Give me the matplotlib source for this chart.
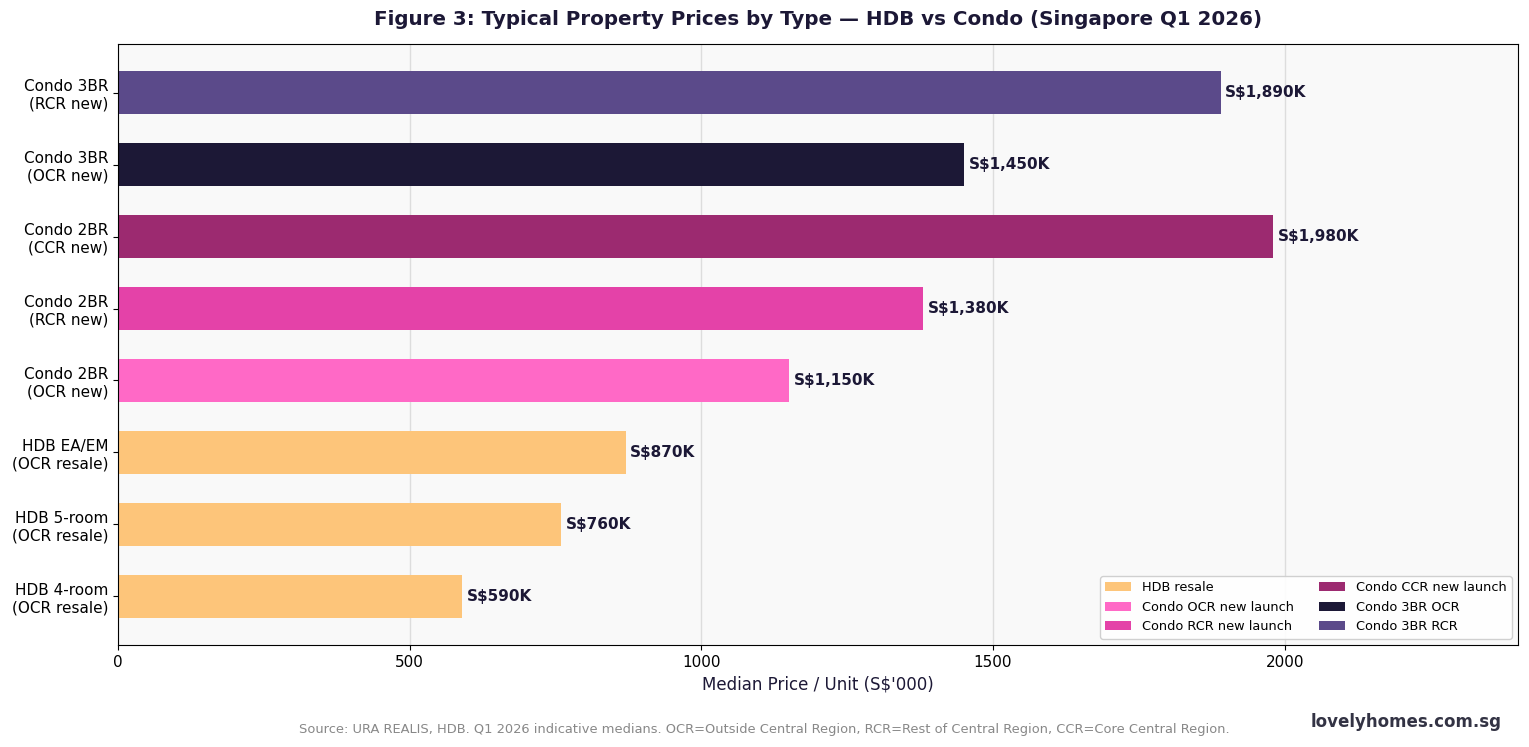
import matplotlib
matplotlib.use('Agg')
import matplotlib.pyplot as plt
from matplotlib.patches import Patch

# categories bottom -> top
labels = ['HDB 4-room\n(OCR resale)', 'HDB 5-room\n(OCR resale)', 'HDB EA/EM\n(OCR resale)',
          'Condo 2BR\n(OCR new)', 'Condo 2BR\n(RCR new)', 'Condo 2BR\n(CCR new)',
          'Condo 3BR\n(OCR new)', 'Condo 3BR\n(RCR new)']
prices = [590, 760, 870, 1150, 1380, 1980, 1450, 1890]
colors = ['#FDC57A', '#FDC57A', '#FDC57A', '#FF69C6', '#E442A8', '#9C2A70', '#1C1836', '#5B4A8A']

legend_names = ['HDB resale', 'Condo OCR new launch', 'Condo RCR new launch',
                'Condo CCR new launch', 'Condo 3BR OCR', 'Condo 3BR RCR']
legend_colors = ['#FDC57A', '#FF69C6', '#E442A8', '#9C2A70', '#1C1836', '#5B4A8A']

fig = plt.figure(figsize=(15.29, 7.47), dpi=100)
ax = fig.add_axes([118/1529, 1 - 645/747, 1400/1529, 601/747])
ax.set_facecolor('#F9F9F9')

ypos = range(len(labels))
bars = ax.barh(ypos, prices, height=0.6, color=colors, zorder=2)

# value labels
for b, v in zip(bars, prices):
    ax.text(v + 8, b.get_y() + b.get_height()/2, 'S$' + format(v, ',') + 'K',
            va='center', ha='left', fontsize=11, fontweight='bold', color='#1C1836', zorder=3)

ax.set_yticks(list(ypos))
ax.set_yticklabels(labels, fontsize=11)
ax.set_xlim(0, 2400)
ax.set_xticks([0, 500, 1000, 1500, 2000])
ax.tick_params(axis='x', labelsize=11)
ax.grid(axis='x', color='#DDDDDD', linewidth=1, zorder=0)
ax.set_axisbelow(True)
ax.set_xlabel("Median Price / Unit (S$'000)", fontsize=12, color='#1C1836')

ax.set_title('Figure 3: Typical Property Prices by Type \u2014 HDB vs Condo (Singapore Q1 2026)',
             fontsize=14.3, fontweight='bold', color='#1C1836', pad=14)

handles = [Patch(facecolor=c, label=n) for n, c in zip(legend_names, legend_colors)]
ax.legend(handles=handles, ncol=2, loc='lower right', fontsize=9.3, framealpha=0.9)

fig.text(0.5, 1 - 729/747, 'Source: URA REALIS, HDB. Q1 2026 indicative medians. OCR=Outside Central Region, '
         'RCR=Rest of Central Region, CCR=Core Central Region.',
         ha='center', va='center', fontsize=9.35, color='#888888')
fig.text(1502/1529, 1 - 722/747, 'lovelyhomes.com.sg', ha='right', va='center',
         fontsize=12, fontweight='bold', color='#333344')

fig.savefig('out.png', dpi=100)
